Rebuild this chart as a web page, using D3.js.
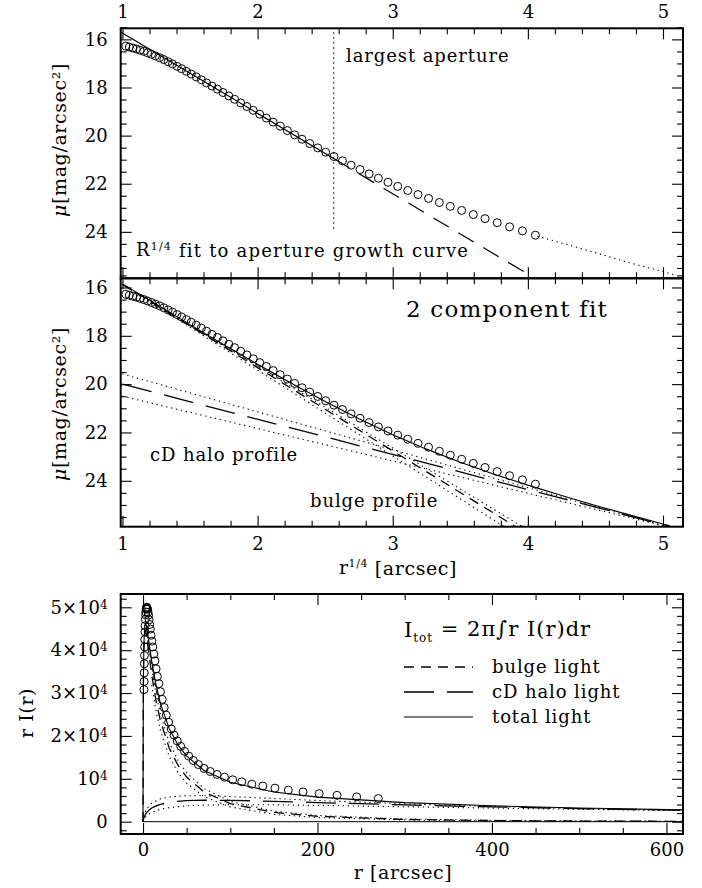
<!DOCTYPE html>
<html><head><meta charset="utf-8">
<script src="https://cdn.jsdelivr.net/npm/d3@7"></script>
<style>
body{margin:0;background:#fff}
svg{display:block}
text{font-family:"DejaVu Serif",serif;fill:#000}
tspan{fill:#000}
</style>
</head><body>
<svg id="c" width="702" height="888"></svg>
<script>
// ---------- data: surface brightness profile ----------
const rq = [1.026,1.051,1.077,1.103,1.130,1.158,1.186,1.215,1.244,1.275,1.306,1.338,1.370,1.404,1.438,1.473,1.509,1.546,1.584,1.622,1.662,1.703,1.744,1.787,1.830,1.875,1.921,1.968,2.016,2.065,2.115,2.167,2.220,2.274,2.329,2.386,2.445,2.504,2.565,2.628,2.692,2.758,2.825,2.894,2.965,3.037,3.111,3.187,3.265,3.345,3.426,3.510,3.596,3.683,3.773,3.865,3.960,4.056];
const mu = [16.28,16.32,16.36,16.40,16.45,16.50,16.56,16.62,16.69,16.76,16.84,16.93,17.02,17.12,17.22,17.33,17.44,17.56,17.68,17.81,17.94,18.07,18.21,18.35,18.49,18.64,18.79,18.95,19.11,19.27,19.44,19.61,19.79,19.97,20.15,20.33,20.51,20.69,20.87,21.05,21.23,21.41,21.59,21.77,21.94,22.11,22.28,22.45,22.61,22.78,22.94,23.11,23.28,23.45,23.62,23.79,23.96,24.14];

// top panel: R^1/4 fit to growth curve
const apertureX = 2.563, apertureMu = [15.5, 24.0];
const fitSolidX = [0.987, 2.563], fitSolidMu = [15.69, 20.955];
const fitDashX = [2.563, 4.04], fitDashMu = [20.955, 25.89];
const extX = [4.07, 4.40, 4.73, 5.03, 5.10], extMu = [24.18, 24.70, 25.25, 25.70, 25.82];

// middle panel: 2 component fit
const totX  = [1,1.25,1.5,1.75,2,2.25,2.5,2.75,3,3.25,3.5,3.75,4,4.25,4.5,4.75,5,5.05];
const totMu = [15.85,16.695,17.536,18.365,19.18,19.965,20.72,21.43,22.09,22.69,23.23,23.73,24.18,24.61,25.02,25.41,25.79,25.865];
const bulgeX = [1, 3.91],  bulgeMu = [15.87, 25.9];
const bulgeAX = [1, 3.96], bulgeAMu = [15.87, 25.9];
const bulgeBX = [1, 3.825], bulgeBMu = [15.87, 25.9];
const haloX = [1, 5.05],  haloMu = [20.0, 25.89];
const haloAX = [1, 5.05], haloAMu = [19.58, 25.93];
const haloBX = [1, 5.05], haloBMu = [20.50, 25.92];

// bottom panel: r I(r)
const rr = [1.108,1.220,1.344,1.480,1.629,1.794,1.976,2.176,2.396,2.638,2.905,3.199,3.523,3.879,4.272,4.704,5.180,5.704,6.281,6.917,7.617,8.388,9.237,10.17,11.20,12.33,13.58,14.96,16.47,18.14,19.97,21.99,24.22,26.67,29.37,32.34,35.61,39.22,43.19,47.56,52.37,57.67,63.51,69.93,77.01,84.80,93.38,102.8,113.2,124.7,137.3,151.2,166.5,183.4,201.9,222.4,244.9,269.7];
const rI = [30800,32700,34710,36840,38750,40750,42460,44250,45690,47170,48260,48920,49590,49810,50030,49790,49550,48860,48180,47070,45980,44930,43490,42100,40760,39090,37500,35640,33870,32190,30310,28540,26630,24850,23190,21640,20180,18830,17570,16400,15300,14270,13320,12430,11700,11020,10380,9770,9290,8745,8310,7825,7370,6940,6535,6155,5795,5405];
const rGrid      = [0,0.25,0.5,1,2,3,5,7,10,15,20,30,40,50,70,100,150,200,300,400,500,620];
const bulgeLight = [0,25720,33620,40550,44450,44560,42030,38770,34200,28070,23480,17200,13170,10410,6940,4207,2161,1257,527,262,145,78];
const haloLight  = [0,335,559,904,1403,1775,2326,2732,3184,3705,4057,4498,4747,4891,5008,4983,4757,4470,3916,3446,3054,2668];
const totalLight = [0,26055,34180,41450,45850,46340,44360,41500,37380,31780,27540,21700,17920,15300,11950,9190,6918,5727,4443,3708,3199,2746];
const envGrid    = [10,15,20,30,40,50,70,100,150,200,300,400,500,620];
const bulgeEnvA  = [35690,29610,24970,18520,14320,11410,7707,4742,2480,1464,628,318,178,98];
const bulgeEnvB  = [31820,25670,21190,15200,11450,8935,5832,3447,1717,975,394,190,103,54];
const haloGrid   = [0,1,2,5,10,20,30,50,70,100,150,200,300,400,500,620];
const haloEnvA   = [0,1330,2025,3254,4325,5323,5765,6063,6060,5864,5406,4945,4157,3541,3056,2598];
const haloEnvB   = [0,570,903,1549,2186,2888,3281,3694,3878,3974,3934,3803,3479,3166,2885,2592];

const xTicksMu = [1,2,3,4,5];
const yTicksMu = [16,18,20,22,24];
const xTicksR = [0,200,400,600];
const yTicksR = [0,10000,20000,30000,40000,50000];

// ---------- drawing ----------
const svg = d3.select("#c");
svg.append("rect").attr("width",702).attr("height",888).attr("fill","#fff");
const L = 120.7, R = 683;
const MAJ = 11, MIN = 6;

const xMu = d3.scaleLinear().domain([0.987, 5.148]).range([L, R]);
const yTop = d3.scaleLinear().domain([15.54, 25.93]).range([28.3, 278.3]);
const yMid = d3.scaleLinear().domain([15.62, 25.90]).range([278.3, 526.7]);
const xR = d3.scaleLinear().domain([-25.6, 619]).range([L, R]);
const yR = d3.scaleLinear().domain([-2870, 53100]).range([834, 594]);

function range(a,b,s){const o=[];for(let v=a;v<=b+1e-9;v+=s)o.push(+v.toFixed(6));return o;}

function axes(x, y, opts){
  const [y0,y1] = y.range(); const top=Math.min(y0,y1), bot=Math.max(y0,y1);
  const g = svg.append("g");
  const minX = opts.xMinor, minY = opts.yMinor;
  const mk = (ax, tr, vals, size, fmt, pad) => {
    const a = ax.tickValues(vals).tickSizeInner(-size).tickSizeOuter(0).tickPadding(pad||0);
    a.tickFormat(fmt || (()=>""));
    const gg = g.append("g").attr("transform", tr).call(a);
    gg.select(".domain").remove();
    gg.selectAll("line").attr("stroke","#000").attr("stroke-width",1.1);
    gg.selectAll("text").attr("font-size", 18).attr("fill","#000").attr("font-family","DejaVu Serif");
    return gg;
  };
  mk(d3.axisBottom(x), `translate(0,${bot})`, opts.xMajor, MAJ, opts.bottomLabels ? (d=>d) : null, opts.bPad);
  mk(d3.axisBottom(x), `translate(0,${bot})`, minX, MIN);
  mk(d3.axisTop(x), `translate(0,${top})`, opts.xMajor, MAJ, opts.topLabels ? (d=>d) : null, 10);
  mk(d3.axisTop(x), `translate(0,${top})`, minX, MIN);
  const lg = mk(d3.axisLeft(y), `translate(${L},0)`, opts.yMajor, MAJ, d=>d, 13);
  mk(d3.axisLeft(y), `translate(${L},0)`, minY, MIN);
  mk(d3.axisRight(y), `translate(${R},0)`, opts.yMajor, MAJ);
  mk(d3.axisRight(y), `translate(${R},0)`, minY, MIN);
  g.append("rect").attr("x",L).attr("y",top).attr("width",R-L).attr("height",bot-top)
    .attr("fill","none").attr("stroke","#000").attr("stroke-width",2);
  return lg;
}

function clip(id, x, y){
  const [y0,y1] = y.range(); const top=Math.min(y0,y1), bot=Math.max(y0,y1);
  svg.append("clipPath").attr("id",id).append("rect").attr("x",L).attr("y",top).attr("width",R-L).attr("height",bot-top);
  return svg.append("g").attr("clip-path",`url(#${id})`);
}

function path(g, x, y, xs, ys, dash, w){
  const ln = d3.line().x(d=>x(d[0])).y(d=>y(d[1]));
  g.append("path").attr("d", ln(d3.zip(xs, ys))).attr("fill","none").attr("stroke","#000")
    .attr("stroke-width", w||1.1).attr("stroke-dasharray", dash||null);
}
function circles(g, x, y, xs, ys){
  g.selectAll(null).data(d3.zip(xs, ys)).enter().append("circle")
    .attr("cx", d=>x(d[0])).attr("cy", d=>y(d[1])).attr("r", 4)
    .attr("fill","none").attr("stroke","#000").attr("stroke-width",1);
}

const DOT = "1.3,3.7", LONG = "30,13", SHORT = "10,7";

// ===== top panel =====
const gT = clip("ct", xMu, yTop);
path(gT, xMu, yTop, [apertureX, apertureX], apertureMu, DOT);
path(gT, xMu, yTop, fitSolidX, fitSolidMu, null, 1.2);
path(gT, xMu, yTop, fitDashX, fitDashMu, "18,11", 1.2);
path(gT, xMu, yTop, extX, extMu, DOT);
circles(gT, xMu, yTop, rq, mu);
axes(xMu, yTop, {xMajor:xTicksMu, xMinor:range(1,5.1,0.2).filter(v=>!xTicksMu.includes(v)), yMajor:yTicksMu,
  yMinor:range(15.5,25.9,0.5).filter(v=>!yTicksMu.includes(v)), topLabels:true});

// ===== middle panel =====
const gM = clip("cm", xMu, yMid);
path(gM, xMu, yMid, bulgeAX, bulgeAMu, DOT);
path(gM, xMu, yMid, bulgeBX, bulgeBMu, DOT);
path(gM, xMu, yMid, haloAX, haloAMu, DOT);
path(gM, xMu, yMid, haloBX, haloBMu, DOT);
path(gM, xMu, yMid, bulgeX, bulgeMu, SHORT, 1.3);
path(gM, xMu, yMid, haloX, haloMu, LONG, 1.3);
path(gM, xMu, yMid, totX, totMu, null, 1.1);
circles(gM, xMu, yMid, rq, mu);
axes(xMu, yMid, {xMajor:xTicksMu, xMinor:range(1,5.1,0.2).filter(v=>!xTicksMu.includes(v)), yMajor:yTicksMu,
  yMinor:range(15.5,25.9,0.5).filter(v=>!yTicksMu.includes(v)), bottomLabels:true, bPad:11});

// ===== bottom panel =====
const gB = clip("cb", xR, yR);
path(gB, xR, yR, [0, 619], [0, 0], null, 1);
path(gB, xR, yR, envGrid, bulgeEnvA, DOT);
path(gB, xR, yR, envGrid, bulgeEnvB, DOT);
path(gB, xR, yR, haloGrid, haloEnvA, DOT);
path(gB, xR, yR, haloGrid, haloEnvB, DOT);
path(gB, xR, yR, rGrid, bulgeLight, SHORT, 1.3);
path(gB, xR, yR, rGrid, haloLight, LONG, 1.3);
path(gB, xR, yR, rGrid, totalLight, null, 1.1);
circles(gB, xR, yR, rr, rI);
const lgB = axes(xR, yR, {xMajor:xTicksR, xMinor:range(0,600,50).filter(v=>!xTicksR.includes(v)), yMajor:yTicksR,
  yMinor:range(-2000,52000,2000).filter(v=>!yTicksR.includes(v)), bottomLabels:true, bPad:9});
lgB.selectAll(".tick text").each(function(d){
  const t = d3.select(this); t.text(null);
  if (d === 0) { t.text("0"); return; }
  const m = d/10000;
  t.append("tspan").text(m === 1 ? "10" : m + "×10");
  t.append("tspan").attr("dy","-0.42em").attr("font-size","12px").text("4");
});

// ===== texts =====
function txt(x, y, s, size, anchor, ls){
  return svg.append("text").attr("x",x).attr("y",y).attr("font-size",size)
    .attr("letter-spacing", ls==null ? 0.9 : ls).attr("text-anchor",anchor||"start").text(s);
}
txt(346, 62, "largest aperture", 18);
const t1 = txt(136, 256, "R", 18, "start", 1.2);
t1.append("tspan").attr("font-size","11px").attr("dy","-0.55em").text("1/4");
t1.append("tspan").attr("dy","0.37em").text(" fit to aperture growth curve");

txt(507, 317, "2 component fit", 23, "middle", 1.2);
txt(150, 461, "cD halo profile", 18);
txt(310, 507, "bulge profile", 18);
const t2 = txt(398, 574, "r", 19, "middle", 0.6);
t2.append("tspan").attr("font-size","11px").attr("dy","-0.6em").text("1/4");
t2.append("tspan").attr("dy","0.38em").text(" [arcsec]");

function ylab(x, y, size){
  return svg.append("text").attr("transform",`translate(${x},${y}) rotate(-90)`).attr("text-anchor","middle")
    .attr("font-size",size).attr("letter-spacing",0.6);
}
const ya = ylab(66, 140, 19); ya.append("tspan").attr("font-style","italic").text("μ"); ya.append("tspan").text("[mag/arcsec²]");
const yb = ylab(66, 404, 19); yb.append("tspan").attr("font-style","italic").text("μ"); yb.append("tspan").text("[mag/arcsec²]");
ylab(33, 713, 19).text("r I(r)");
txt(403, 879, "r [arcsec]", 19, "middle", 0.6);

// legend
const lt = txt(404, 637, "I", 21, "start", 1);
lt.append("tspan").attr("font-size","12px").attr("dy","0.45em").text("tot");
lt.append("tspan").attr("dy","-0.3em").text(" = 2π∫r I(r)dr");
const legend = [["bulge light", SHORT, 667, 1.3],["cD halo light", LONG, 692, 1.3],["total light", null, 717, 1.1]];
legend.forEach(([name, dash, yy, w])=>{
  svg.append("line").attr("x1",404).attr("x2",473).attr("y1",yy).attr("y2",yy)
    .attr("stroke","#000").attr("stroke-width",w).attr("stroke-dasharray",dash);
  txt(492, yy+6, name, 18);
});
</script>
</body></html>
